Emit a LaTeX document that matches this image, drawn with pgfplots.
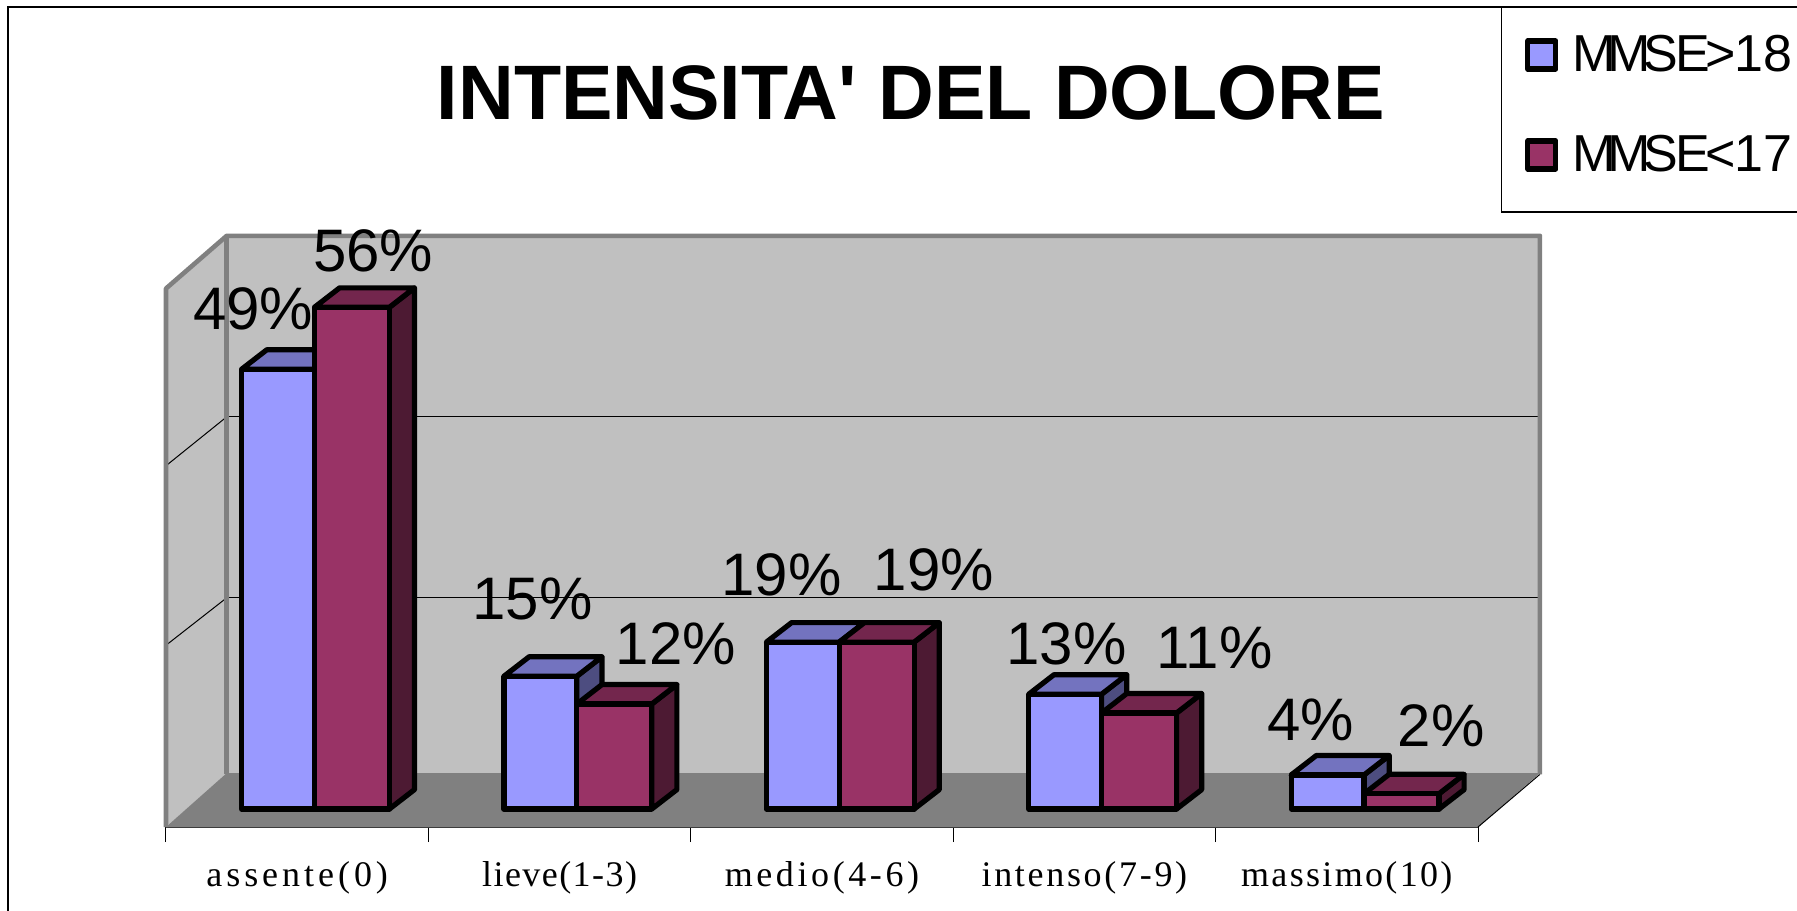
\documentclass[border=0pt]{standalone}
\usepackage{fontspec}
\usepackage{pgfplots}
\usepackage{pgfplotstable}
\pgfplotsset{compat=1.18}
\setmainfont{Liberation Sans}
\newfontfamily\timesf{Liberation Serif}
\newfontfamily\titlef{Liberation Sans}
\definecolor{wall}{RGB}{192,192,192}
\definecolor{floorc}{RGB}{128,128,128}
\definecolor{blueF}{RGB}{153,153,255}
\definecolor{blueT}{RGB}{115,115,191}
\definecolor{blueS}{RGB}{77,77,128}
\definecolor{redF}{RGB}{153,51,102}
\definecolor{redT}{RGB}{115,38,77}
\definecolor{redS}{RGB}{77,26,51}

% bar heights as drawn; the labels show them rounded
\pgfplotstableread{
x   a    b
0.5 49   55.9
1.5 14.8 11.7
2.5 18.6 18.6
3.5 12.8 10.7
4.5 3.8  1.7
}\paintable

\newcommand\ls[2]{{\addfontfeature{LetterSpace=#1}#2}}
\newcommand\mmse[1]{M\kern-4.2pt M\kern-3.6pt S\kern-1.6pt E\kern-2.1pt #1\kern-0.7pt}
\newcommand\lab[3]{\node[anchor=base,yshift=1.2pt,font=\fontsize{30}{32}\selectfont] at (axis cs:#1,#2) {#3\%};}

% top and side of each bar: #1 column, #2 left edge within the category, #3 width, #4 top colour, #5 side colour
\newcommand\barfaces[5]{%
  \pgfplotsforeachungrouped \r in {0,...,4}{%
    \pgfplotstablegetelem{\r}{#1}\of\paintable
    \let\v\pgfplotsretval
    \pgfmathsetmacro\xl{\r+#2}
    \pgfmathsetmacro\xr{\xl+#3}
    \pgfmathsetmacro\xld{\xl+0.096}
    \pgfmathsetmacro\xrd{\xr+0.096}
    \pgfmathsetmacro\yt{\v+2.17}
    \edef\tmp{\noexpand\addplot[forget plot,barline,fill=#5] coordinates {(\xr,0) (\xrd,2.17) (\xrd,\yt) (\xr,\v)} -- cycle;
      \noexpand\addplot[forget plot,barline,fill=#4] coordinates {(\xl,\v) (\xld,\yt) (\xrd,\yt) (\xr,\v)} -- cycle;}
    \tmp
  }%
}

\begin{document}
\begin{tikzpicture}
\path[use as bounding box,clip] (-83pt,-41.5pt) rectangle (815.5pt,413.5pt);
\begin{axis}[
    at={(0pt,0pt)}, anchor=south west,
    scale only axis,
    width=656pt, height=269.25pt,
    xmin=0, xmax=5, ymin=-2, ymax=58,
    clip=false,
    hide y axis,
    axis x line*=bottom,
    x axis line style={line width=0.6pt,draw=black!80},
    xtick={0.5,1.5,2.5,3.5,4.5},
    xticklabels={{\ls{11}{assente(0)}},{\ls{4}{lieve(1-3)}},{\ls{10}{medio(4-6)}},{\ls{7.5}{intenso(7-9)}},{\ls{6.5}{massimo(10)}}},
    xticklabel style={font=\timesf\fontsize{18}{20}\selectfont,yshift=-13.5pt},
    major tick length=0pt,
    minor xtick={0,1,2,3,4,5},
    minor tick length=7.5pt,
    tick align=outside,
    xtick pos=bottom,
    minor tick style={line width=0.5pt,black},
    barline/.style={draw=black,line width=2.6pt,line join=round},
    legend cell align=left,
    legend style={at={(axis cs:5.091,89.37)},anchor=north west,draw=none,fill=none,
      font=\fontsize{26}{28}\selectfont,inner xsep=11.5pt,inner ysep=12pt,row sep=26.3pt},
    legend image code/.code={\draw[#1,line width=2.6pt,line join=round] (0pt,-7pt) rectangle (14pt,7pt);
      \path[draw=none,fill=none] (0pt,0pt) -- (20.3pt,0pt);},
]
% frame of the slide, cut by the page at right and bottom
\draw[black,line width=0.6pt] (axis cs:-0.602,-20) -- (axis cs:-0.602,89.37) -- (axis cs:7,89.37);
% box round the legend, running off the page at right
\draw[black,line width=0.6pt] (axis cs:5.091,89.37) -- (axis cs:5.091,66.52) -- (axis cs:7,66.52);

% walls and floor
\addplot[forget plot,draw=none,fill=wall] coordinates {(0.2314,3.87) (5.236,3.87) (5.236,63.87) (0.2314,63.87)} -- cycle;
\addplot[forget plot,draw=none,fill=wall] coordinates {(0,-2) (0.2314,3.87) (0.2314,63.87) (0,58)} -- cycle;
\addplot[forget plot,draw=none,fill=floorc] coordinates {(0,-2) (5,-2) (5.236,4) (0.2314,4)} -- cycle;
\addplot[forget plot,black,line width=0.5pt] coordinates {(0.2314,23.54) (5.236,23.54)};
\addplot[forget plot,black,line width=0.5pt] coordinates {(0.2314,43.7) (5.236,43.7)};
\addplot[forget plot,black,line width=0.5pt] coordinates {(0,18.25) (0.2314,23.54)};
\addplot[forget plot,black,line width=0.5pt] coordinates {(0,38.25) (0.2314,43.7)};
\addplot[forget plot,black,line width=0.5pt] coordinates {(5,-2) (5.236,3.87)};
\addplot[forget plot,floorc,line width=2.3pt,line join=round] coordinates {(0,-2) (0,58) (0.2314,63.87) (5.236,63.87) (5.236,3.87)};
\addplot[forget plot,floorc,line width=2.3pt] coordinates {(0.2314,3.87) (0.2314,63.87)};

% bars
\barfaces{a}{0.288}{0.2775}{blueT}{blueS}
\addplot[ybar,bar width=36.4pt,bar shift=-9.6pt,barline,fill=blueF] table[x=x,y=a] {\paintable};
\barfaces{b}{0.5655}{0.2855}{redT}{redS}
\addplot[ybar,bar width=37.46pt,bar shift=27.35pt,barline,fill=redF] table[x=x,y=b] {\paintable};
\legend{\mmse{>}18,\mmse{<}17}

% value labels
\lab{0.332}{53.2}{49}
\lab{0.79}{59.6}{56}
\lab{1.397}{20.86}{15}
\lab{1.943}{15.88}{12}
\lab{2.345}{23.5}{19}
\lab{2.926}{24.05}{19}
\lab{3.432}{15.88}{13}
\lab{3.996}{15.37}{11}
\lab{4.362}{7.32}{4}
\lab{4.86}{6.68}{2}

% title
\node[anchor=base,font=\titlef\bfseries\fontsize{38.6}{42}\selectfont] at (axis cs:2.838,76.8) {INTENSITA' DEL DOLORE};
\end{axis}
\end{tikzpicture}
\end{document}
